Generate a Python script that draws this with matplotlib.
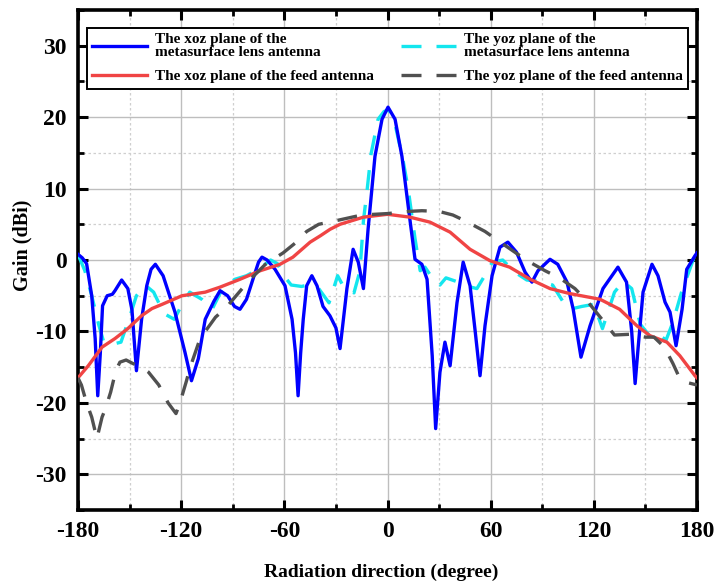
import matplotlib
matplotlib.use("Agg")
import matplotlib.pyplot as plt
from matplotlib.ticker import MultipleLocator

# xoz plane, metasurface lens antenna (blue)
xoz_lens_deg = [-180, -177.5, -175, -172, -170, -168.5, -167, -165.7, -163, -160, -158.5,
                -154.6, -151, -148.6, -146, -143, -140, -137.5, -135, -130.5, -123.6,
                -117.8, -114, -110, -106, -101, -97.4, -93, -89, -85.8, -82, -78, -75,
                -73, -70, -65.4, -59.6, -55.5, -53.5, -52, -50.5, -49, -47, -44, -41,
                -39.3, -37.5, -33.5, -30, -27.6, -25.5, -23.6, -20, -17, -14, -11.3,
                -7.3, -3.2, 0.3, 4.4, 8.4, 12, 16, 20, 23, 26, 28, 30.5, 33.4, 36.4,
                40.4, 44, 48, 51, 53.8, 56.7, 60.8, 65.4, 70, 75, 80, 84, 87.5, 94.5,
                99, 104.4, 108, 112.5, 117.8, 125.3, 134, 139, 142, 144, 145.7, 148.6,
                153.8, 157.3, 161.4, 164.3, 167.8, 171.3, 174, 178.8, 180]
xoz_lens_gain = [0.8, 0.3, -0.5, -5, -11, -19, -13, -6.4, -5, -4.8, -4.3,
                 -2.8, -4, -7, -15.5, -8.3, -3.6, -1.3, -0.6, -2.2, -7.3,
                 -12.9, -16.9, -13.8, -8.3, -5.8, -4.3, -5, -6.5, -6.9, -5.5, -2.5, -0.3,
                 0.4, 0, -1.3, -3.6, -8.3, -13, -19, -13, -8.3, -3.6, -2.2, -3.6,
                 -5, -6.5, -7.8, -9.5, -12.4, -8, -4, 1.5, -0.3, -4, 4.3,
                 14.5, 19.7, 21.4, 19.7, 14.5, 7.6, 0.1, -0.6, -2.7, -13.4, -23.6, -15.7, -11.5, -14.8,
                 -6, -0.3, -3.6, -10, -16.2, -9.2, -2.2, 1.8, 2.5, 1.1, -1.7, -3.1, -1.5, 0.1,
                 -0.6, -3.1, -6.9, -13.6, -9.2, -4, -1, -3.1, -10, -17.3, -12.4, -4.5,
                 -0.6, -2.2, -5.9, -7.3, -12, -6.9, -1.3, 0.6, 1.0]

# yoz plane, metasurface lens antenna (cyan dashed)
yoz_lens_deg = [-180, -176, -172, -168, -165, -160, -155, -150, -146, -141, -136, -130,
                -124, -119, -115, -108, -102, -96, -88.7, -82, -75, -68, -64, -61, -56,
                -50, -46, -40, -34, -29, -25, -19.5, -16, -14, -12, -9.6, -5.5, -2, 1,
                4.4, 9, 12, 16, 19, 21.8, 26, 30.5, 34, 40, 45, 52, 57, 61, 67, 74, 81,
                88.7, 96, 103, 106, 113, 120, 125, 132, 137, 142, 147, 152, 158.5, 162,
                166, 171, 177.7, 180]
yoz_lens_gain = [0.8, -1.5, -5, -9, -11.5, -11.8, -11.5, -8, -5, -3.5, -4.5, -7.5,
                 -8.3, -6, -4.5, -5.5, -6.9, -4, -2.7, -2.2, -1.3, 0, -0.5, -2, -3.5,
                 -3.7, -3.5, -4, -6, -2.2, -4, -4.6, -1.5, 5.5, 9.5, 14.8, 19.7, 20.8, 21,
                 19, 14, 10, 3, -1.5, -1, -2.5, -3.5, -2.5, -3, -3.6, -4, -2, -0.3, 0, -1.7, -2.8,
                 -3, -3.5, -6.2, -6.9, -6.5, -6.2, -9.6, -4.5, -3, -4, -9, -10.5, -10.6, -11.2,
                 -8.7, -4.5, 0, 1]

# xoz plane, feed antenna (red)
xoz_feed_deg = [-180, -174, -170, -166, -158.5, -151, -143, -137, -131, -119.5, -106,
                -97.4, -85.8, -74, -62.5, -55, -45, -39, -33.4, -27.6, -14, 0, 13, 24.7,
                36.4, 48, 59.6, 71, 83, 94.5, 106, 123.6, 135, 145, 152.7, 162.5, 170,
                178.8, 180]
xoz_feed_gain = [-16.5, -14.8, -13.5, -12.2, -11, -9.6, -7.8, -6.8, -6.2, -5, -4.5,
                 -3.8, -2.7, -1.5, -0.6, 0.4, 2.5, 3.4, 4.3, 5, 6, 6.4, 6, 5.3,
                 3.9, 1.5, -0.1, -1, -2.7, -4, -4.7, -5.5, -6.9, -9.2, -10.6, -11.5, -13.4,
                 -16.2, -16.5]

# yoz plane, feed antenna (gray dashed)
yoz_feed_deg = [-180, -178, -175, -172, -169, -166, -164, -161, -158, -155.6, -152, -148,
                -143, -139, -133, -127.6, -123, -120.7, -117, -115, -109, -106, -100, -94,
                -88, -81, -71, -60.7, -53, -47, -40, -30, -15, 0, 12, 20, 30, 38, 45,
                56.7, 65, 74, 82, 91.6, 100, 109, 117, 124.7, 132, 141, 150, 155, 161,
                166, 170, 175, 180]
yoz_feed_gain = [-16.5, -17.5, -20, -22, -25, -22, -20.8, -18.5, -15.5, -14.3, -14, -14.5,
                 -15, -15.7, -17.5, -20, -21.5, -20, -17, -15.2, -11, -10, -8, -6.7,
                 -5, -3, -0.6, 1, 2.5, 4, 5, 5.5, 6.3, 6.5, 6.8, 6.9, 6.8, 6.3, 5.5,
                 4, 2.6, 1.1, -0.2, -1.5, -2.5, -4, -6, -8.3, -10.5, -10.4, -10.8, -10.8, -12.2,
                 -14.5, -16.6, -17.2, -17.5]

x_ticks = [-180, -120, -60, 0, 60, 120, 180]
y_ticks = [-30, -20, -10, 0, 10, 20, 30]

serif = ["Liberation Serif", "DejaVu Serif"]
plt.rcParams["font.family"] = serif
plt.rcParams["font.weight"] = "bold"
plt.rcParams["axes.unicode_minus"] = False

fig = plt.figure(figsize=(7.18, 5.82), dpi=100)
ax = fig.add_axes([0.1086, 0.1237, 0.8622, 0.8591])

lw = 2.4
dash = (0, (6, 4.5))
ax.plot(xoz_lens_deg, xoz_lens_gain, color="#0000FF", lw=lw, zorder=4,
        label="The xoz plane of the\nmetasurface lens antenna")
ax.plot(xoz_feed_deg, xoz_feed_gain, color="#F04444", lw=lw, zorder=5,
        label="The xoz plane of the feed antenna")
ax.plot(yoz_lens_deg, yoz_lens_gain, color="#14E6EE", lw=lw, ls=dash, zorder=3,
        label="The yoz plane of the\nmetasurface lens antenna")
ax.plot(yoz_feed_deg, yoz_feed_gain, color="#505050", lw=lw, ls=dash, zorder=6,
        label="The yoz plane of the feed antenna")

ax.set_xlim(-180, 180)
ax.set_ylim(-35, 35)
ax.set_xticks(x_ticks)
ax.set_yticks(y_ticks)
ax.xaxis.set_minor_locator(MultipleLocator(30))
ax.yaxis.set_minor_locator(MultipleLocator(5))

# grid: solid on major, dotted on minor
ax.grid(which="major", color="#BEBEBE", lw=1.0, ls="-", zorder=0)
ax.grid(which="minor", color="#CFCFCF", lw=0.9, ls=(0, (2, 2)), zorder=0)
ax.set_axisbelow(True)

ax.tick_params(which="both", direction="in", top=True, right=True, labelsize=17)
ax.tick_params(which="major", length=7, width=2.2, pad=8)
ax.tick_params(which="minor", length=4, width=2.0)
for lab in ax.get_xticklabels() + ax.get_yticklabels():
    lab.set_fontweight("bold")
for sp in ax.spines.values():
    sp.set_linewidth(2.6)

ax.set_xlabel("Radiation direction (degree)", fontsize=14, fontweight="bold")
ax.xaxis.set_label_coords(0.49, -0.107)
ax.set_ylabel("Gain (dBi)", fontsize=14.5, fontweight="bold")
ax.yaxis.set_label_coords(-0.073, 0.53)

leg = ax.legend(ncol=2, loc="upper left", bbox_to_anchor=(0.0145, 0.83, 0.971, 0.134),
                mode="expand", frameon=True, fancybox=False, framealpha=1,
                edgecolor="black", fontsize=11, handlelength=3.6, handletextpad=0.5,
                borderpad=0.35, labelspacing=0.7, borderaxespad=0)
leg.get_frame().set_linewidth(1.4)
for t in leg.get_texts():
    t.set_linespacing(0.95)

fig.savefig("out.png", dpi=100)
